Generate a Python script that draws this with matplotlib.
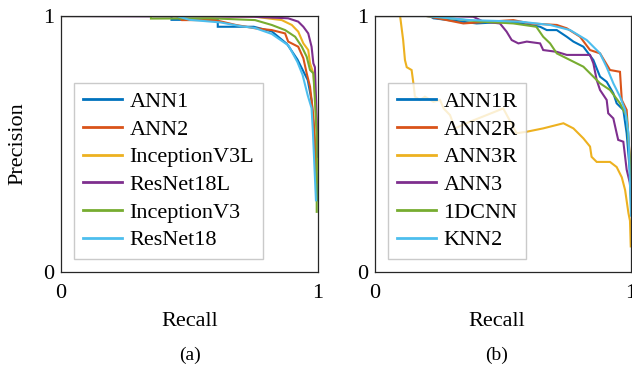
import matplotlib
matplotlib.use("Agg")
import matplotlib.pyplot as plt

plt.rcParams['font.family'] = ['Liberation Serif', 'DejaVu Serif']

# ---------------- Panel (a) data ----------------
labels_a = ["ANN1", "ANN2", "InceptionV3L", "ResNet18L", "InceptionV3", "ResNet18"]

ann1_r = [0, 0.43, 0.43, 0.61, 0.61, 0.75, 0.82, 0.88, 0.92, 0.96, 0.975, 0.988, 0.995, 0.998]
ann1_p = [1, 1, 0.985, 0.985, 0.958, 0.958, 0.94, 0.89, 0.83, 0.75, 0.67, 0.50, 0.35, 0.28]

ann2_r = [0, 0.45, 0.47, 0.6, 0.68, 0.755, 0.82, 0.872, 0.884, 0.923, 0.943, 0.956, 0.969, 0.975, 0.982, 0.988, 0.995]
ann2_p = [1, 1, 0.984, 0.984, 0.965, 0.952, 0.945, 0.932, 0.9, 0.88, 0.835, 0.776, 0.724, 0.672, 0.607, 0.516, 0.35]

inc3l_r = [0, 0.6, 0.755, 0.859, 0.898, 0.923, 0.943, 0.962, 0.969, 0.982, 0.988, 0.995, 0.998]
inc3l_p = [1, 1, 0.997, 0.984, 0.965, 0.939, 0.893, 0.867, 0.815, 0.776, 0.698, 0.542, 0.4]

res18l_r = [0, 0.75, 0.884, 0.923, 0.943, 0.962, 0.975, 0.982, 0.988, 0.995, 0.998]
res18l_p = [1, 0.997, 0.991, 0.978, 0.958, 0.932, 0.88, 0.815, 0.8, 0.6, 0.45]

inc3_r = [0, 0.35, 0.35, 0.586, 0.755, 0.82, 0.872, 0.911, 0.937, 0.956, 0.969, 0.982, 0.988, 0.995, 0.995]
inc3_p = [1, 1, 0.99, 0.991, 0.984, 0.965, 0.945, 0.919, 0.88, 0.841, 0.789, 0.776, 0.672, 0.542, 0.235]

res18_r = [0, 0.45, 0.5, 0.62, 0.7, 0.755, 0.82, 0.885, 0.92, 0.94, 0.96, 0.975, 0.98, 0.992]
res18_p = [1, 1, 0.985, 0.975, 0.96, 0.953, 0.93, 0.885, 0.82, 0.77, 0.69, 0.64, 0.55, 0.28]

# ---------------- Panel (b) data ----------------
labels_b = ["ANN1R", "ANN2R", "ANN3R", "ANN3", "1DCNN", "KNN2"]

ann1r_r = [0, 0.215, 0.228, 0.397, 0.527, 0.645, 0.671, 0.71, 0.749, 0.775, 0.814, 0.853, 0.879, 0.905, 0.931, 0.944, 0.97, 0.983, 0.995, 1.0]
ann1r_p = [1, 1, 0.991, 0.971, 0.978, 0.958, 0.945, 0.945, 0.919, 0.9, 0.88, 0.828, 0.763, 0.743, 0.698, 0.659, 0.633, 0.542, 0.4, 0.28]

ann2r_r = [0, 0.2, 0.345, 0.54, 0.605, 0.71, 0.749, 0.801, 0.84, 0.879, 0.918, 0.957, 0.964, 0.983, 0.995, 1.0]
ann2r_p = [1, 1, 0.971, 0.984, 0.971, 0.965, 0.952, 0.919, 0.867, 0.854, 0.789, 0.782, 0.672, 0.633, 0.45, 0.3]

ann3r_r = [0, 0.098, 0.11, 0.117, 0.124, 0.143, 0.15, 0.156, 0.176, 0.195, 0.228, 0.254, 0.268, 0.293, 0.3125,
           0.371, 0.501, 0.553, 0.593, 0.657, 0.736, 0.775, 0.814, 0.84, 0.846, 0.866, 0.918, 0.944, 0.964,
           0.977, 0.99, 0.996, 0.999]
ann3r_p = [1, 1, 0.906, 0.828, 0.80, 0.789, 0.737, 0.685, 0.672, 0.685, 0.665, 0.672, 0.639, 0.613, 0.561,
           0.587, 0.639, 0.542, 0.548, 0.561, 0.581, 0.561, 0.522, 0.49, 0.45, 0.43, 0.43, 0.41, 0.37,
           0.32, 0.23, 0.2, 0.1]

ann3_r = [0, 0.266, 0.384, 0.423, 0.488, 0.514, 0.534, 0.56, 0.593, 0.645, 0.657, 0.71, 0.749, 0.84, 0.853,
          0.866, 0.879, 0.905, 0.911, 0.931, 0.944, 0.95, 0.97, 0.983, 0.995, 1.0]
ann3_p = [1, 1, 0.997, 0.978, 0.971, 0.939, 0.906, 0.893, 0.9, 0.893, 0.867, 0.86, 0.848, 0.848, 0.815,
          0.75, 0.711, 0.672, 0.62, 0.6, 0.542, 0.516, 0.509, 0.4, 0.35, 0.3]

cnn_r = [0, 0.2, 0.24, 0.41, 0.54, 0.63, 0.657, 0.684, 0.71, 0.762, 0.814, 0.84, 0.879, 0.918, 0.957, 0.983, 0.995, 1.0]
cnn_p = [1, 1, 0.997, 0.978, 0.971, 0.958, 0.919, 0.893, 0.854, 0.828, 0.802, 0.776, 0.737, 0.711, 0.659, 0.607, 0.45, 0.25]

knn2_r = [0, 0.2, 0.371, 0.566, 0.684, 0.762, 0.827, 0.879, 0.905, 0.931, 0.957, 0.977, 0.99, 1.0]
knn2_p = [1, 1, 0.984, 0.978, 0.965, 0.945, 0.906, 0.854, 0.80, 0.737, 0.685, 0.633, 0.542, 0.22]

colors = ["#0072BD", "#D95319", "#EDB120", "#7E2F8E", "#77AC30", "#4DBEEE"]

series_a = [(ann1_r, ann1_p), (ann2_r, ann2_p), (inc3l_r, inc3l_p),
            (res18l_r, res18l_p), (inc3_r, inc3_p), (res18_r, res18_p)]
series_b = [(ann1r_r, ann1r_p), (ann2r_r, ann2r_p), (ann3r_r, ann3r_p),
            (ann3_r, ann3_p), (cnn_r, cnn_p), (knn2_r, knn2_p)]

fig = plt.figure(figsize=(6.32, 3.69), dpi=100)
W, H = 632, 369
FS = 16
spine_col = "#262626"


def make_axes(x0, x1, y_top, y_bot):
    return fig.add_axes([x0 / W, 1 - y_bot / H, (x1 - x0) / W, (y_bot - y_top) / H])


ax_a = make_axes(61, 318, 16, 272)
ax_b = make_axes(375, 631, 16, 272)

for ax, series, labels in [(ax_a, series_a, labels_a), (ax_b, series_b, labels_b)]:
    for (r, p), c, lab in zip(series, colors, labels):
        ax.plot(r, p, color=c, lw=1.5, label=lab, solid_joinstyle='miter')
    ax.set_xlim(0, 1)
    ax.set_ylim(0, 1)
    ax.set_xticks([0, 1])
    ax.set_yticks([0, 1])
    ax.set_xticklabels(["0", "1"])
    ax.set_yticklabels(["0", "1"])
    ax.tick_params(length=0, labelsize=FS, colors="#000000")
    ax.tick_params(axis='y', pad=5)
    ax.tick_params(axis='x', pad=9)
    for s in ax.spines.values():
        s.set_color(spine_col)
        s.set_linewidth(0.9)
    leg = ax.legend(loc='lower left', bbox_to_anchor=(0.05, 0.05), borderaxespad=0,
                    fontsize=FS, frameon=True, fancybox=False, labelspacing=0.32,
                    handlelength=1.75, handletextpad=0.35, borderpad=0.4)
    leg.get_frame().set_edgecolor("#BDBDBD")
    leg.get_frame().set_linewidth(1.0)
    for line in leg.get_lines():
        line.set_linewidth(2.0)

fig.text(18 / W, 1 - 144 / H, "Precision", rotation=90, ha='center', va='center', fontsize=FS)
fig.text(189.5 / W, 1 - 321 / H, "Recall", ha='center', va='center', fontsize=FS)
fig.text(497 / W, 1 - 321 / H, "Recall", ha='center', va='center', fontsize=FS)
fig.text(189.5 / W, 1 - 355 / H, "(a)", ha='center', va='center', fontsize=FS - 2)
fig.text(497 / W, 1 - 355 / H, "(b)", ha='center', va='center', fontsize=FS - 2)

fig.savefig("out.png", dpi=100)
